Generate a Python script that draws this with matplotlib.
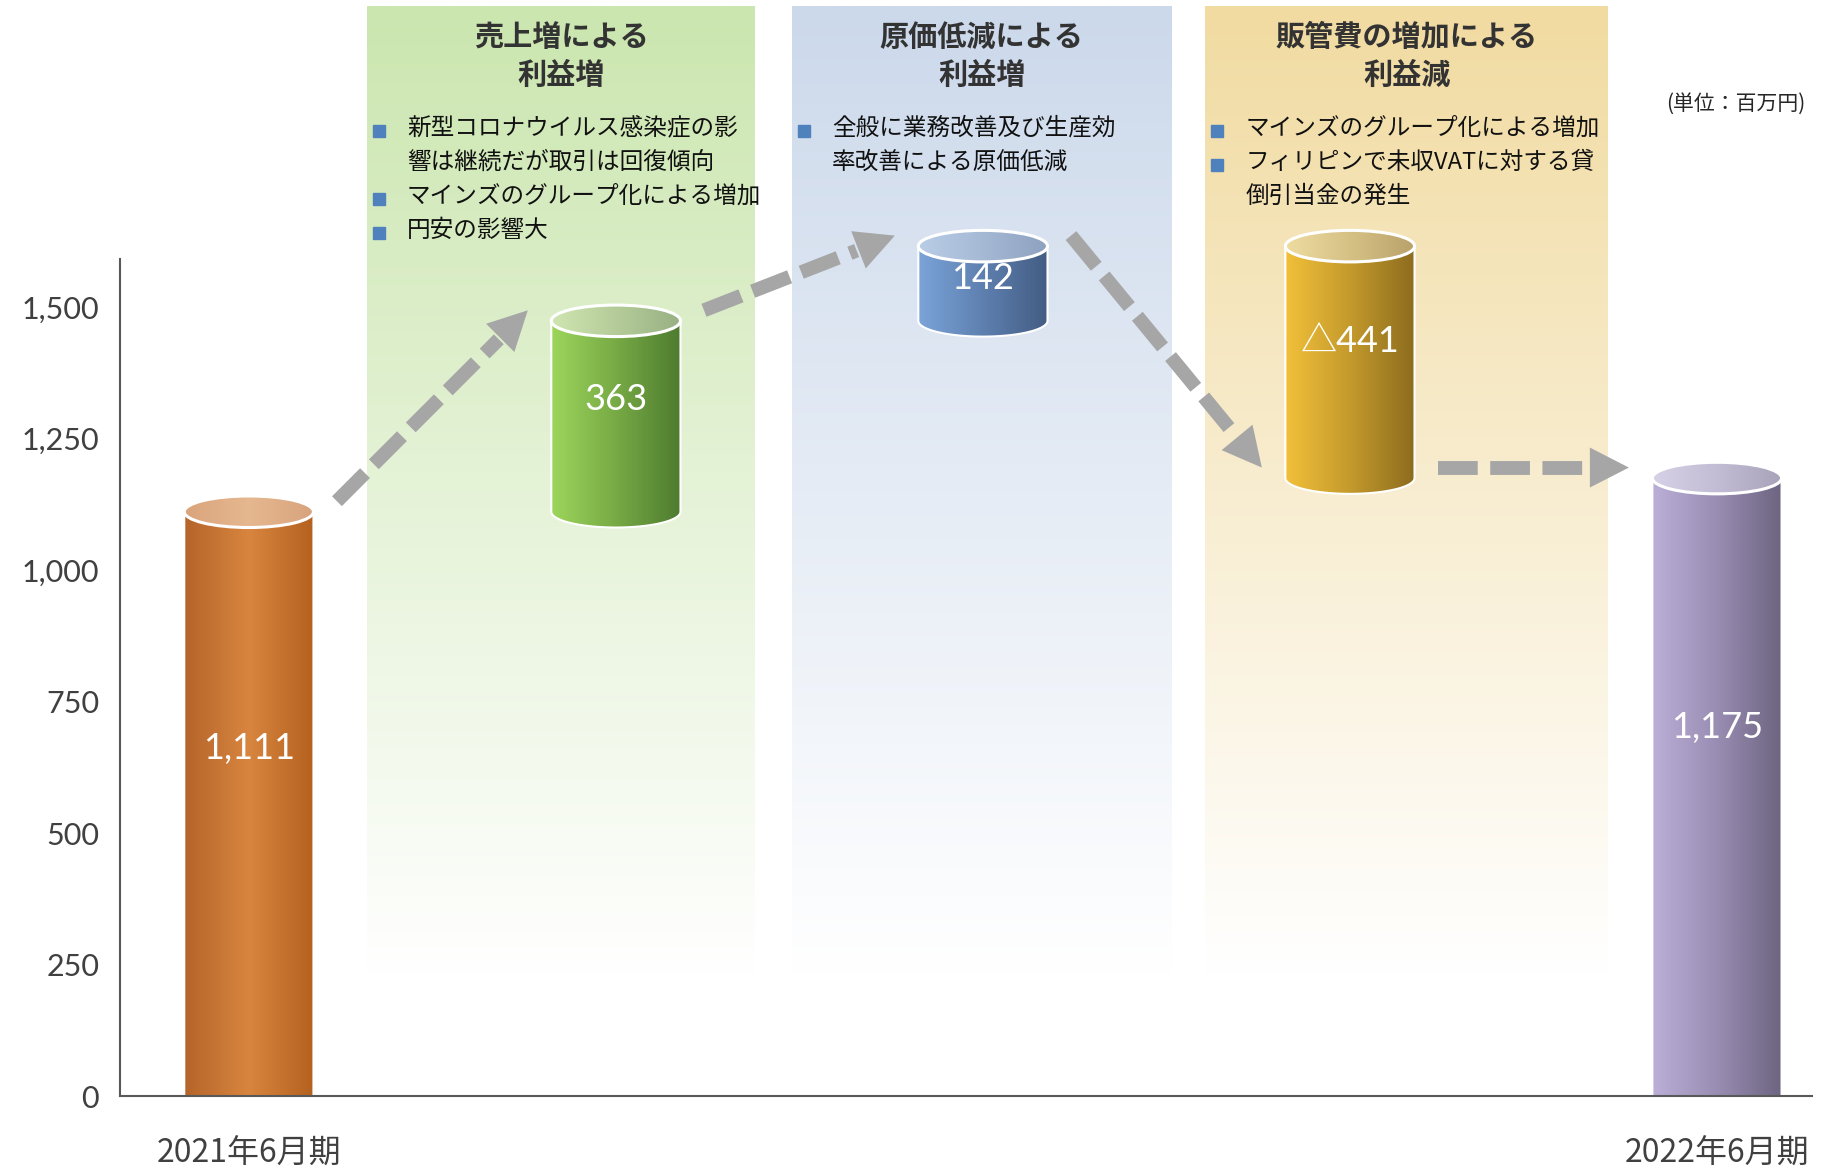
import numpy as np
import matplotlib
matplotlib.use("Agg")
import matplotlib.pyplot as plt
from matplotlib.patches import Polygon, Ellipse
from matplotlib.colors import LinearSegmentedColormap

plt.rcParams['font.family'] = ['Noto Sans CJK JP', 'DejaVu Sans']

# --- data (million yen) ---
periods = ['2021年6月期', '2022年6月期']
start_value = 1111
end_value = 1175
step_values = [363, 142, -441]
value_labels = ['1,111', '363', '142', '△441', '1,175']
step_titles = ['売上増による\n利益増', '原価低減による\n利益増', '販管費の増加による\n利益減']
step_notes = [
    ['新型コロナウイルス感染症の影\n響は継続だが取引は回復傾向',
     'マインズのグループ化による増加',
     '円安の影響大'],
    ['全般に業務改善及び生産効\n率改善による原価低減'],
    ['マインズのグループ化による増加',
     'フィリピンで未収VATに対する貸\n倒引当金の発生'],
]
y_ticks = [0, 250, 500, 750, 1000, 1250, 1500]
unit_label = '(単位：百万円)'

# --- styles ---
body_colors = [
    ['#B5642A', '#D8853F', '#B4611F'],
    ['#9DD65C', '#77AA45', '#4E7B2F'],
    ['#7BA4D9', '#5E80B0', '#435C83'],
    ['#F2C03A', '#C49A2C', '#8C6C1E'],
    ['#BCAFD8', '#9A8DB3', '#6C6480'],
]
top_colors = [
    ['#D9A47C', '#E6B890', '#D7A37C'],
    ['#CFE6B2', '#B5CC9A', '#98B083'],
    ['#BACDE7', '#A5B9D5', '#8EA2C0'],
    ['#EEDCA0', '#D6C185', '#B9A26A'],
    ['#D8D2E8', '#C2BCD4', '#A9A3BA'],
]
panel_colors = ['#CBE6AF', '#CCD9EB', '#F1DBA1']
panel_span = [(0.322, 1.379), (1.480, 2.513), (2.606, 3.704)]
arrow_gray = '#A6A6A6'
num_font = ['Lato', 'Noto Sans CJK JP', 'DejaVu Sans']
bar_w = 0.352
ell_h = 60

# running totals
levels = [start_value]
for v in step_values:
    levels.append(levels[-1] + v)
bar_lo = [0] + levels[:-1] + [0]
bar_hi = [start_value] + levels[1:] + [end_value]
arrow_levels = levels + [end_value]
xpos = np.arange(len(value_labels))

fig = plt.figure(figsize=(18.27, 11.69), dpi=100)
ax = fig.add_axes([0.0657, 0.0624, 0.9261, 0.9376])
ax.set_xlim(-0.351, 4.259)
ax.set_ylim(0, 2084)
ax.set_autoscale_on(False)

# shaded explanation panels
for (x0, x1), col in zip(panel_span, panel_colors):
    c = np.array(matplotlib.colors.to_rgb(col))
    t = np.linspace(0, 1, 200).reshape(-1, 1, 1)
    img = c * (1 - t) + np.ones(3) * t
    ax.imshow(img, extent=(x0, x1, 232, 2072), aspect='auto', origin='upper',
              zorder=0.5, interpolation='bilinear')

# titles and bullet notes
for (x0, x1), title, notes in zip(panel_span, step_titles, step_notes):
    cx = (x0 + x1) / 2
    for j, line in enumerate(title.split('\n')):
        ax.text(cx, 2014 - j * 72, line, ha='center', va='center', fontsize=21,
                fontweight='bold', color='#333333', zorder=5)
    k = 0
    for note in notes:
        ax.plot(x0 + 0.033, 1840 - k * 64.7 - 5, marker='s', ms=9,
                color='#4F81BD', ls='none', zorder=5)
        for line in note.split('\n'):
            ax.text(x0 + 0.109, 1840 - k * 64.7, line, ha='left', va='center',
                    fontsize=17, color='#111111', zorder=5)
            k += 1

ax.text(4.24, 1886, unit_label, ha='right', va='center', fontsize=15, color='#262626')

# dashed arrows between cylinders
head_len, head_hw = 39, 20
inv = ax.transData.inverted()
for i in range(len(xpos) - 1):
    a = ax.transData.transform((xpos[i] + 0.24, arrow_levels[i] + 20))
    b = ax.transData.transform((xpos[i + 1] - 0.24, arrow_levels[i + 1] + 20))
    d = b - a
    u = d / np.hypot(*d)
    n = np.array([-u[1], u[0]])
    base = b - u * (head_len + 2)
    q0, qb = inv.transform(a), inv.transform(base)
    ax.plot([q0[0], qb[0]], [q0[1], qb[1]], color=arrow_gray, lw=10,
            dashes=(2.86, 0.9), dash_capstyle='butt', zorder=2)
    base = b - u * head_len
    head = inv.transform(np.array([b, base + n * head_hw, base - n * head_hw]))
    ax.add_patch(Polygon(head, closed=True, fc=arrow_gray, ec='none', zorder=2))

# cylinders
grad = np.linspace(0, 1, 256).reshape(1, -1)
for i, x in enumerate(xpos):
    lo, hi = min(bar_lo[i], bar_hi[i]), max(bar_lo[i], bar_hi[i])
    hw, eh = bar_w / 2, ell_h / 2
    t = np.linspace(np.pi, 2 * np.pi, 80)
    xs = np.concatenate([[x - hw], x + hw * np.cos(t), [x + hw]])
    ys = np.concatenate([[hi], lo + eh * np.sin(t), [hi]])
    body = Polygon(np.column_stack([xs, ys]), closed=True, fc='none',
                   ec='white', lw=1.5, zorder=3.05)
    ax.add_patch(body)
    im = ax.imshow(grad, cmap=LinearSegmentedColormap.from_list('b%d' % i, body_colors[i]),
                   extent=(x - hw, x + hw, lo - eh, hi), aspect='auto', zorder=3,
                   interpolation='bilinear')
    im.set_clip_path(body)
    top = Ellipse((x, hi), 2 * hw, 2 * eh, fc='none', ec='white', lw=2.2, zorder=3.2)
    ax.add_patch(top)
    im2 = ax.imshow(grad, cmap=LinearSegmentedColormap.from_list('t%d' % i, top_colors[i]),
                    extent=(x - hw, x + hw, hi - eh, hi + eh), aspect='auto', zorder=3.1,
                    interpolation='bilinear')
    im2.set_clip_path(top)
    ax.text(x, (lo + hi) / 2 + 0.1 * (hi - lo) - 5, value_labels[i], ha='center',
            va='center', fontsize=26, color='white', family=num_font, zorder=4)

# axes styling
for s in ['top', 'right']:
    ax.spines[s].set_visible(False)
ax.spines['left'].set_bounds(0, 1592)
for s in ['left', 'bottom']:
    ax.spines[s].set_color('#595959')
    ax.spines[s].set_linewidth(1.5)
    ax.spines[s].set_zorder(6)
ax.set_yticks(y_ticks, [f'{v:,}' for v in y_ticks])
ax.set_xticks([xpos[0], xpos[-1]], periods)
ax.tick_params(axis='y', length=0, pad=15, labelsize=22, labelcolor='#404040')
ax.tick_params(axis='x', length=0, pad=30, labelsize=23, labelcolor='#404040')
for lab in ax.get_yticklabels():
    lab.set_fontfamily(num_font)

fig.savefig('out.png', dpi=100)
